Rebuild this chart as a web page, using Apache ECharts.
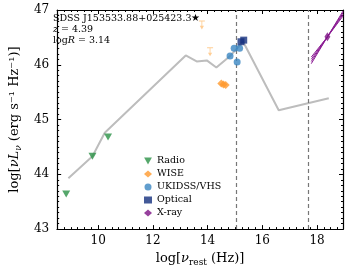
<!DOCTYPE html>
<html>
<head>
<meta charset="utf-8">
<script src="https://cdn.jsdelivr.net/npm/echarts@6/dist/echarts.min.js"></script>
<style>
  html, body { margin: 0; padding: 0; background: #fff; }
  #chart { width: 349px; height: 272px; }
</style>
</head>
<body>
<div id="chart"></div>
<script>
// SED template (grey line)
var sedLine = [[8.91, 43.93], [9.79, 44.33], [10.24, 44.76], [13.2, 46.17], [13.6, 46.06],
  [13.97, 46.08], [14.32, 45.95], [14.8, 46.15], [15.3, 46.42], [16.6, 45.17], [18.43, 45.39]];
var radio = [[8.83, 43.64], [9.79, 44.33], [10.36, 44.68]];
var wise = [[14.5, 45.66], [14.58, 45.64], [14.66, 45.63]];
var wiseLimits = [[13.79, 46.8], [14.09, 46.31]];
var ukidss = [[14.82, 46.16], [14.97, 46.3], [15.17, 46.3], [15.08, 46.05]];
var optical = [[15.22, 46.42], [15.32, 46.45]];
var xray = [[18.38, 46.51]];
// x-ray bowtie: left end, pivot, right end
var xrayLines = [
  [[17.79, 46.02], [18.38, 46.51], [18.95, 46.98]],
  [[17.79, 46.06], [18.38, 46.51], [18.95, 46.95]],
  [[17.79, 46.1], [18.38, 46.51], [18.95, 46.92]],
  [[17.79, 46.14], [18.38, 46.51], [18.95, 46.89]]
];
var vLines = [15.05, 17.68];
var xTicks = [10, 12, 14, 16, 18];
var xMin = 8.5, xMax = 18.95;

var serif = 'DejaVu Serif';
var myChart = echarts.init(document.getElementById('chart'));

var xMinor = [];
for (var v = 8.5; v <= xMax; v += 0.25) xMinor.push(v);

function xAx(pos, labels, ticks, len) {
  return {
    type: 'value', position: pos, min: xMin, max: xMax,
    axisLine: { show: pos === 'bottom', lineStyle: { color: '#000', width: 1.2 } },
    axisTick: { show: true, inside: true, length: len, customValues: ticks, lineStyle: { color: '#000' } },
    axisLabel: { show: labels, customValues: xTicks, color: '#000', fontFamily: serif, fontSize: 12, margin: 6 },
    splitLine: { show: false }
  };
}
function yAx(pos, labels) {
  return {
    type: 'value', position: pos, min: 43, max: 47, interval: 1,
    axisLine: { show: true, onZero: false, lineStyle: { color: '#000', width: 1.2 } },
    axisTick: { show: true, inside: true, length: 4, lineStyle: { color: '#000' } },
    minorTick: { show: true, splitNumber: 10, length: 2, lineStyle: { color: '#000' } },
    axisLabel: { show: labels, color: '#000', fontFamily: serif, fontSize: 12, margin: 8 },
    splitLine: { show: false }
  };
}

var xAxes = [xAx('bottom', true, xTicks, 4), xAx('bottom', false, xMinor, 2), xAx('top', false, xTicks, 4), xAx('top', false, xMinor, 2)];
xAxes[0].name = '{n|log[}{i|ν}{s|rest}{n| (Hz)]}';
xAxes[0].nameLocation = 'middle';
xAxes[0].nameGap = 20;
xAxes[0].nameTextStyle = {
  color: '#000', fontFamily: serif, fontSize: 13,
  rich: {
    n: { fontFamily: serif, fontSize: 13 },
    i: { fontFamily: serif, fontSize: 13, fontStyle: 'italic' },
    s: { fontFamily: serif, fontSize: 9, padding: [8, 0, 0, 0] }
  }
};
xAxes[2].axisLine = { show: true, lineStyle: { color: '#000', width: 1.2 } };

var yAxes = [yAx('left', true), yAx('right', false)];
yAxes[0].name = '{n|log[}{i|νL}{s|ν}{n| (erg s⁻¹ Hz⁻¹)]}';
yAxes[0].nameLocation = 'middle';
yAxes[0].nameGap = 26;
yAxes[0].nameTextStyle = {
  color: '#000', fontFamily: serif, fontSize: 13,
  rich: {
    n: { fontFamily: serif, fontSize: 13 },
    i: { fontFamily: serif, fontSize: 13, fontStyle: 'italic' },
    s: { fontFamily: serif, fontSize: 9, fontStyle: 'italic', padding: [8, 0, 0, 0] }
  }
};

var downTri = 'path://M0,0 L10,0 L5,9 Z';
var upperLim = 'path://M0,0 H10 V1.6 H0 Z M4.3,1.6 H5.7 V10 H4.3 Z M1.5,9 H8.5 L5,15 Z';

var series = [
  {
    type: 'line', name: 'SED', data: sedLine, symbol: 'none', z: 1,
    lineStyle: { color: '#bdbdbd', width: 2 },
    markLine: {
      silent: true, symbol: 'none', label: { show: false },
      lineStyle: { color: '#777', type: [4, 3], width: 1.2 },
      data: vLines.map(function (x) { return { xAxis: x }; })
    }
  },
  { type: 'scatter', name: 'Radio', data: radio, symbol: downTri, symbolSize: [8, 7], itemStyle: { color: '#2a9146' }, z: 5 },
  { type: 'scatter', name: 'WISE', data: wise, symbol: 'diamond', symbolSize: 8, itemStyle: { color: '#ff9a2e' }, z: 5 },
  { type: 'scatter', name: 'WISE lim', data: wiseLimits, symbol: upperLim, symbolSize: [6, 9], symbolOffset: [0, 4], itemStyle: { color: '#ffc27a' }, z: 4 },
  { type: 'scatter', name: 'UKIDSS/VHS', data: ukidss, symbol: 'circle', symbolSize: 7, itemStyle: { color: '#3a86c2' }, z: 5 },
  { type: 'scatter', name: 'Optical', data: optical, symbol: 'rect', symbolSize: 7, itemStyle: { color: '#14307e' }, z: 6 },
  { type: 'scatter', name: 'X-ray', data: xray, symbol: 'diamond', symbolSize: [6, 9], itemStyle: { color: '#7d1185' }, z: 7 }
];
xrayLines.forEach(function (d) {
  series.push({ type: 'line', name: 'xline', data: d, symbol: 'none', z: 6, lineStyle: { color: '#8a1a92', width: 1 } });
});

myChart.setOption({
  animation: false,
  grid: { left: 47, right: 6, top: 10, bottom: 42 },
  xAxis: xAxes,
  yAxis: yAxes,
  legend: {
    data: ['Radio', 'WISE', 'UKIDSS/VHS', 'Optical', 'X-ray'],
    orient: 'vertical', left: 139, top: 151, itemGap: 3, itemWidth: 8, itemHeight: 7,
    textStyle: { fontFamily: serif, fontSize: 9.5, color: '#000' }
  },
  graphic: [
    { type: 'text', left: 53, top: 14, style: { text: 'SDSS J153533.88+025423.3★', font: '9.5px "DejaVu Serif"', fill: '#000' } },
    { type: 'text', left: 53, top: 25, style: { text: '{i|z} = 4.39', font: '9.5px "DejaVu Serif"', fill: '#000', rich: { i: { fontStyle: 'italic', fontFamily: serif, fontSize: 9.5 } } } },
    { type: 'text', left: 53, top: 36, style: { text: 'log{i|R} = 3.14', font: '9.5px "DejaVu Serif"', fill: '#000', rich: { i: { fontStyle: 'italic', fontFamily: serif, fontSize: 9.5 } } } }
  ],
  series: series
});
</script>
</body>
</html>
